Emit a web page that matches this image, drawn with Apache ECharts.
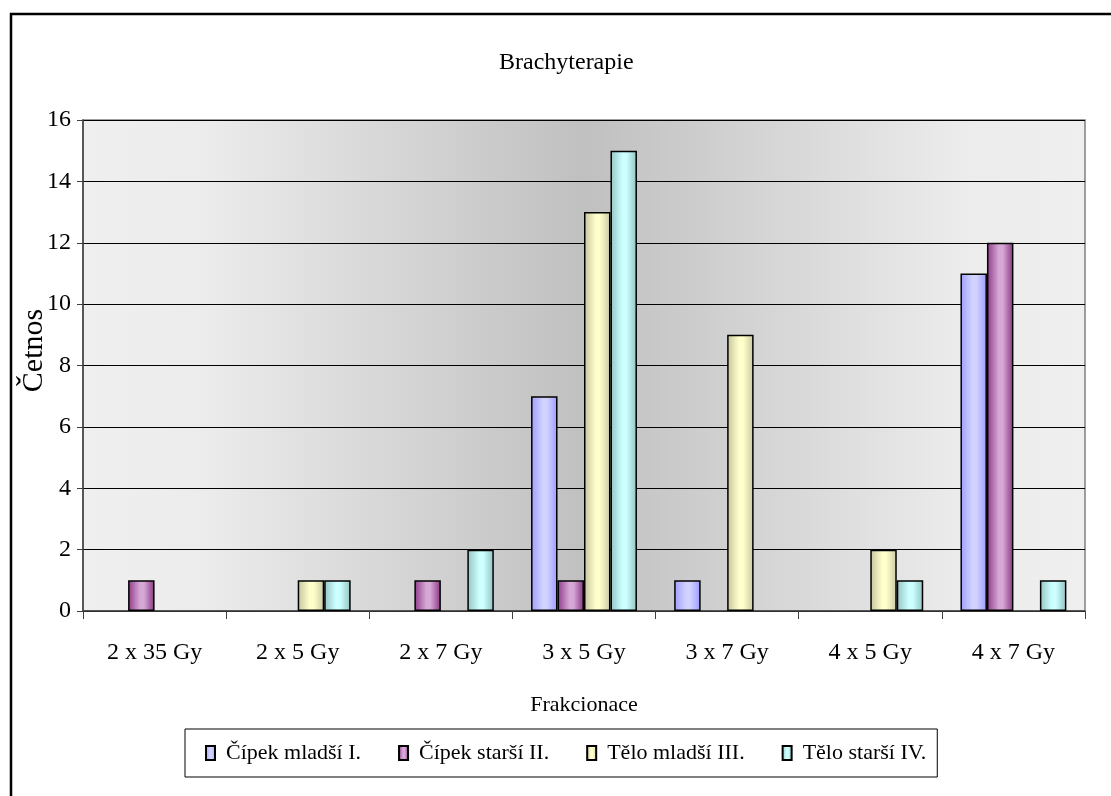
<!DOCTYPE html>
<html>
<head>
<meta charset="utf-8">
<title>Brachyterapie</title>
<script src="https://cdn.jsdelivr.net/npm/echarts@6/dist/echarts.min.js"></script>
<style>
  html, body { margin: 0; padding: 0; background: #fff; }
  #chart { width: 1111px; height: 796px; }
</style>
</head>
<body>
<div id="chart"></div>
<script>
// Fractionation schemes on the x axis
const categories = ['2 x 35 Gy', '2 x 5 Gy', '2 x 7 Gy', '3 x 5 Gy', '3 x 7 Gy', '4 x 5 Gy', '4 x 7 Gy'];

// Counts per group
const cipekMladsi = [0, 0, 0, 7, 1, 0, 11];
const cipekStarsi = [1, 0, 1, 1, 0, 0, 12];
const teloMladsi  = [0, 1, 0, 13, 9, 2, 0];
const teloStarsi  = [0, 1, 2, 15, 0, 1, 1];

const seriesNames = ['Čípek mladší I.', 'Čípek starší II.', 'Tělo mladší III.', 'Tělo starší IV.'];
const yTicks = { min: 0, max: 16, step: 2 };

const FONT = '"Liberation Serif", "Times New Roman", serif';

// Cylinder-like horizontal shading for each group
function shade(dark, light, darkR) {
  return {
    type: 'linear', x: 0, y: 0, x2: 1, y2: 0,
    colorStops: [
      { offset: 0, color: dark },
      { offset: 0.45, color: light },
      { offset: 0.6, color: light },
      { offset: 1, color: darkR || dark }
    ]
  };
}
const fills = [
  shade('#9d9dff', '#d2d2ff', '#9a9aff'),
  shade('#8e3a88', '#d6a8d6', '#883482'),
  shade('#c4c49c', '#ffffcc', '#c8c8a2'),
  shade('#94c4c4', '#ccffff', '#92c2c2')
];
const groups = [cipekMladsi, cipekStarsi, teloMladsi, teloStarsi];

const series = groups.map((vals, i) => ({
  name: seriesNames[i],
  type: 'bar',
  // empty categories draw no bar
  data: vals.map(v => (v === 0 ? '-' : v)),
  barGap: '0%',
  barCategoryGap: '26%',
  itemStyle: { color: fills[i], borderColor: '#000', borderWidth: 1.5 }
}));

const chart = echarts.init(document.getElementById('chart'), null, { renderer: 'canvas' });
chart.setOption({
  backgroundColor: '#fff',
  animation: false,
  title: {
    text: 'Brachyterapie',
    left: 499,
    top: 51,
    padding: 0,
    textStyle: { fontFamily: FONT, fontSize: 24, fontWeight: 'normal', color: '#000' }
  },
  graphic: [{
    type: 'rect',
    shape: { x: 11, y: 14, width: 1200, height: 900 },
    style: { fill: 'none', stroke: '#000', lineWidth: 2.5 },
    silent: true
  }],
  legend: {
    left: 185,
    top: 729,
    orient: 'horizontal',
    itemWidth: 9,
    itemHeight: 14,
    itemGap: 37,
    padding: [13, 11, 13, 20],
    borderColor: '#000',
    borderWidth: 1,
    icon: 'rect',
    textStyle: { fontFamily: FONT, fontSize: 22, color: '#000', padding: [0, 0, 0, 6] },
    data: seriesNames
  },
  grid: {
    left: 83, right: 26, top: 120, bottom: 185,
    outerBoundsMode: 'none',
    show: true,
    borderColor: '#808080',
    borderWidth: 1.5,
    backgroundColor: {
      type: 'linear', x: 0, y: 0, x2: 1, y2: 0,
      colorStops: [
        { offset: 0, color: '#efefef' },
        { offset: 0.12, color: '#ececec' },
        { offset: 0.5, color: '#c0c0c0' },
        { offset: 0.88, color: '#ececec' },
        { offset: 1, color: '#efefef' }
      ]
    }
  },
  xAxis: {
    type: 'category',
    data: categories,
    name: 'Frakcionace',
    nameLocation: 'middle',
    nameGap: 83,
    nameTextStyle: { fontFamily: FONT, fontSize: 22, color: '#000' },
    axisLine: { lineStyle: { color: '#404040', width: 1.5 } },
    axisTick: { show: true, length: 8, lineStyle: { color: '#404040' } },
    axisLabel: { fontFamily: FONT, fontSize: 24, color: '#000', margin: 30 },
    splitLine: { show: false }
  },
  yAxis: {
    type: 'value',
    min: yTicks.min,
    max: yTicks.max,
    interval: yTicks.step,
    name: 'Četnos',
    nameLocation: 'middle',
    nameGap: 34,
    nameMoveOverlap: false,
    nameTextStyle: { fontFamily: FONT, fontSize: 30, color: '#000', padding: [0, 0, 0, 30] },
    axisLine: { show: true, lineStyle: { color: '#404040', width: 1.5 } },
    axisTick: { show: true, length: 6, lineStyle: { color: '#404040' } },
    axisLabel: { fontFamily: FONT, fontSize: 24, color: '#000', margin: 12 },
    splitLine: { show: true, lineStyle: { color: '#000', width: 1 } }
  },
  series: series
});
</script>
</body>
</html>
